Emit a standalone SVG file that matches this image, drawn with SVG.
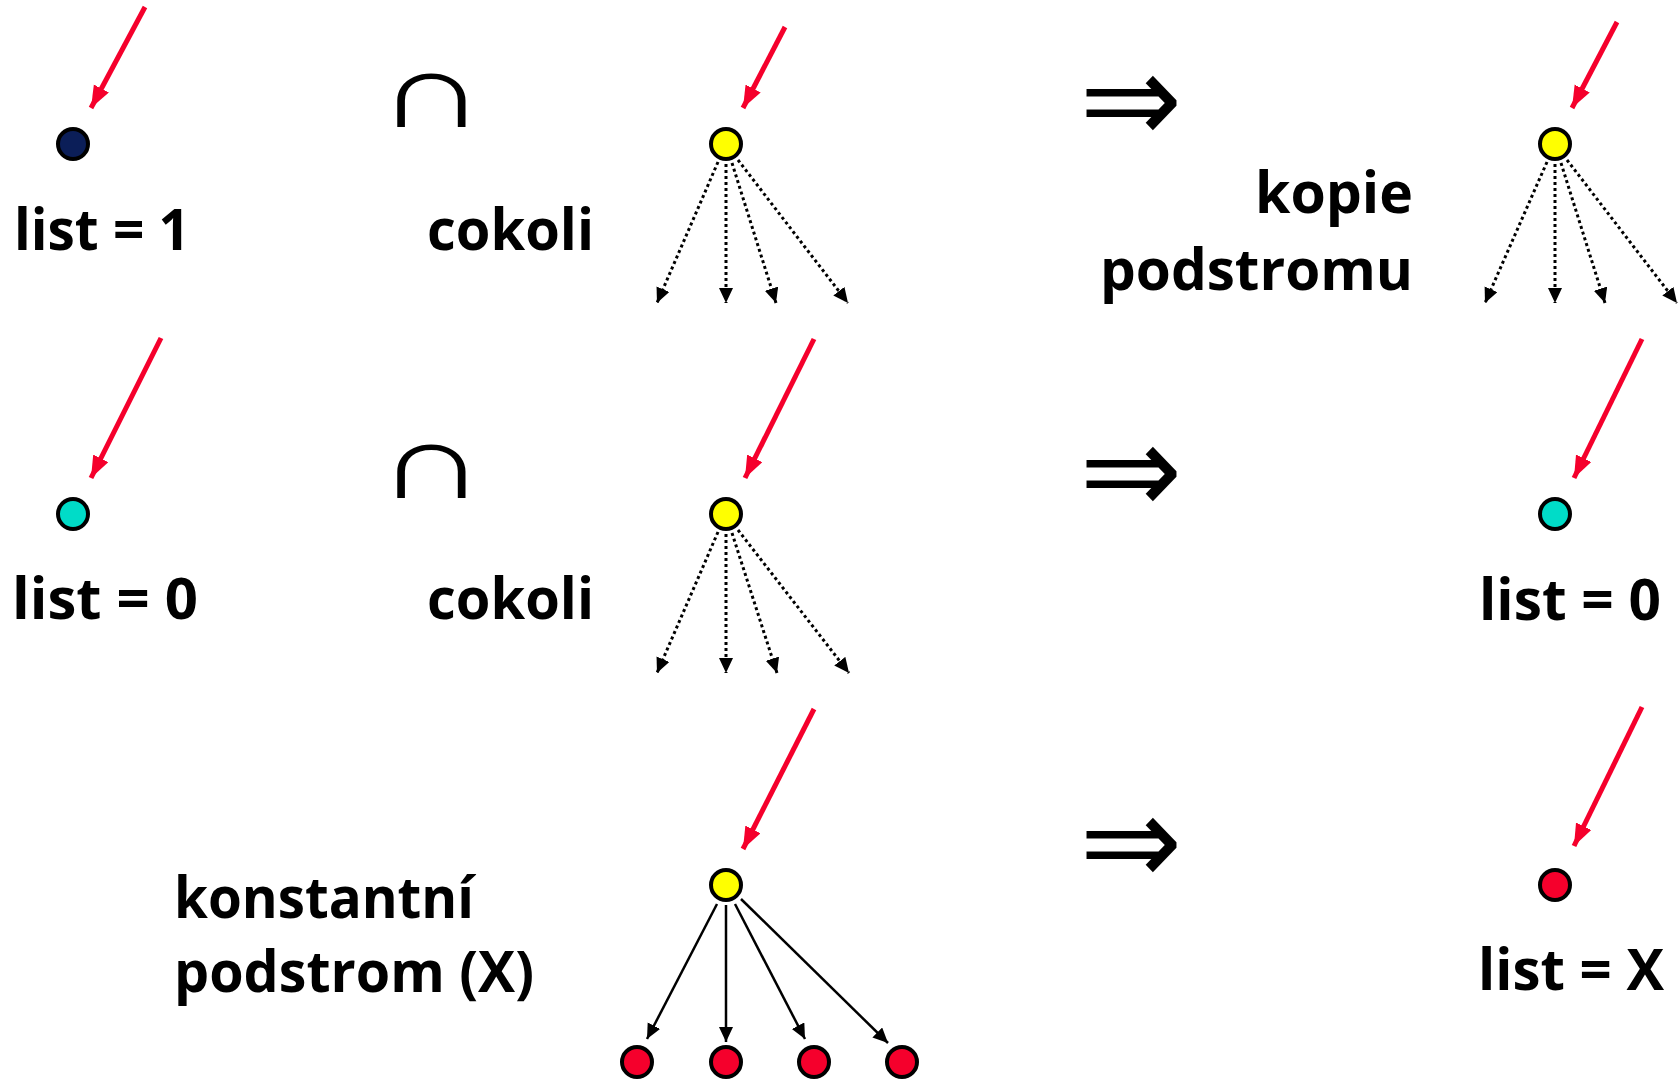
<svg xmlns="http://www.w3.org/2000/svg" width="1680" height="1085" viewBox="0 0 1680 1085">
<style>
.lbl{font-family:"Open Sans","Liberation Sans",sans-serif;font-weight:700;font-size:58px;fill:#000}
.cap{font-family:"Liberation Sans",sans-serif;font-size:106px;fill:#000}
.imp{font-family:"DejaVu Sans",sans-serif;font-size:128px;fill:#000}
.n{stroke:#000;stroke-width:4}
.yel{fill:#ffff00}
.navy{fill:#0b1e58}
.teal{fill:#00dcc8}
.red{fill:#f5002c}
.ptr{stroke:#f5002c;stroke-width:5;fill:none;marker-end:url(#rh)}
.dot{stroke:#000;stroke-width:3;stroke-dasharray:3 3;fill:none;marker-end:url(#bh)}
.sol{stroke:#000;stroke-width:2.5;fill:none;marker-end:url(#bh)}
</style>
<defs>
<marker id="rh" markerUnits="userSpaceOnUse" markerWidth="24" markerHeight="18" refX="22" refY="8.5" orient="auto"><path d="M0,0 L22,8.5 L0,17 z" fill="#f5002c"/></marker>
<marker id="bh" markerUnits="userSpaceOnUse" markerWidth="17" markerHeight="15" refX="15" refY="7" orient="auto"><path d="M0,0 L15,7 L0,14 z" fill="#000"/></marker>
</defs>
<g id="connectors">
<line class="ptr" x1="145" y1="7" x2="91" y2="108"/>
<line class="ptr" x1="785" y1="27" x2="743" y2="108"/>
<line class="ptr" x1="1617" y1="22" x2="1572" y2="108"/>
<line class="ptr" x1="161" y1="338" x2="91" y2="478"/>
<line class="ptr" x1="814" y1="339" x2="745" y2="478"/>
<line class="ptr" x1="1642" y1="339" x2="1574" y2="478"/>
<line class="ptr" x1="814" y1="709" x2="743" y2="849"/>
<line class="ptr" x1="1642" y1="707" x2="1574" y2="846"/>
<line class="dot" x1="718" y1="162" x2="657" y2="303"/>
<line class="dot" x1="726" y1="164" x2="726" y2="303"/>
<line class="dot" x1="732" y1="163" x2="776" y2="303"/>
<line class="dot" x1="738" y1="160" x2="848" y2="303"/>
<line class="dot" x1="1547" y1="162" x2="1485" y2="303"/>
<line class="dot" x1="1555" y1="164" x2="1555" y2="303"/>
<line class="dot" x1="1561" y1="163" x2="1605" y2="303"/>
<line class="dot" x1="1567" y1="160" x2="1677" y2="303"/>
<line class="dot" x1="718" y1="532" x2="657" y2="673"/>
<line class="dot" x1="726" y1="534" x2="726" y2="673"/>
<line class="dot" x1="732" y1="533" x2="777" y2="673"/>
<line class="dot" x1="738" y1="530" x2="849" y2="673"/>
<line class="sol" x1="717" y1="904" x2="647" y2="1039"/>
<line class="sol" x1="726" y1="905" x2="726" y2="1042"/>
<line class="sol" x1="735" y1="904" x2="805" y2="1039"/>
<line class="sol" x1="741" y1="899" x2="888" y2="1043"/>
</g>
<g id="row1-leaf"><circle class="n navy" cx="73" cy="144" r="15"/><text class="lbl" x="14" y="250" textLength="176" lengthAdjust="spacingAndGlyphs">list = 1</text></g>
<g id="row1-cap"><text class="cap" transform="translate(431,127) scale(1.44,1)" text-anchor="middle">∩</text></g>
<g id="row1-any"><text class="lbl" x="427" y="250" textLength="167" lengthAdjust="spacingAndGlyphs">cokoli</text><circle class="n yel" cx="726" cy="144" r="15"/></g>
<g id="row1-imp"><text class="imp" transform="translate(1131,142.5) scale(0.96,1)" text-anchor="middle">⇒</text></g>
<g id="row1-copy"><text class="lbl" x="1255" y="213" textLength="158" lengthAdjust="spacingAndGlyphs">kopie</text><text class="lbl" x="1100" y="290" textLength="313" lengthAdjust="spacingAndGlyphs">podstromu</text><circle class="n yel" cx="1555" cy="144" r="15"/></g>
<g id="row2-leaf"><circle class="n teal" cx="73" cy="514" r="15"/><text class="lbl" x="12" y="619" textLength="186" lengthAdjust="spacingAndGlyphs">list = 0</text></g>
<g id="row2-cap"><text class="cap" transform="translate(431,498) scale(1.44,1)" text-anchor="middle">∩</text></g>
<g id="row2-any"><text class="lbl" x="427" y="619" textLength="167" lengthAdjust="spacingAndGlyphs">cokoli</text><circle class="n yel" cx="726" cy="514" r="15"/></g>
<g id="row2-imp"><text class="imp" transform="translate(1131,513.5) scale(0.96,1)" text-anchor="middle">⇒</text></g>
<g id="row2-res"><circle class="n teal" cx="1555" cy="514" r="15"/><text class="lbl" x="1479" y="620" textLength="182" lengthAdjust="spacingAndGlyphs">list = 0</text></g>
<g id="row3-const"><text class="lbl" x="174" y="918" textLength="300" lengthAdjust="spacingAndGlyphs">konstantní</text><text class="lbl" x="174" y="992" textLength="360" lengthAdjust="spacingAndGlyphs">podstrom (X)</text></g>
<g id="row3-root"><circle class="n yel" cx="726" cy="885" r="15"/></g>
<g id="row3-l1"><circle class="n red" cx="637" cy="1062" r="15"/></g>
<g id="row3-l2"><circle class="n red" cx="726" cy="1062" r="15"/></g>
<g id="row3-l3"><circle class="n red" cx="814" cy="1062" r="15"/></g>
<g id="row3-l4"><circle class="n red" cx="902" cy="1062" r="15"/></g>
<g id="row3-imp"><text class="imp" transform="translate(1131,885) scale(0.96,1)" text-anchor="middle">⇒</text></g>
<g id="row3-res"><circle class="n red" cx="1555" cy="885" r="15"/><text class="lbl" x="1478" y="990" textLength="186" lengthAdjust="spacingAndGlyphs">list = X</text></g>
</svg>
